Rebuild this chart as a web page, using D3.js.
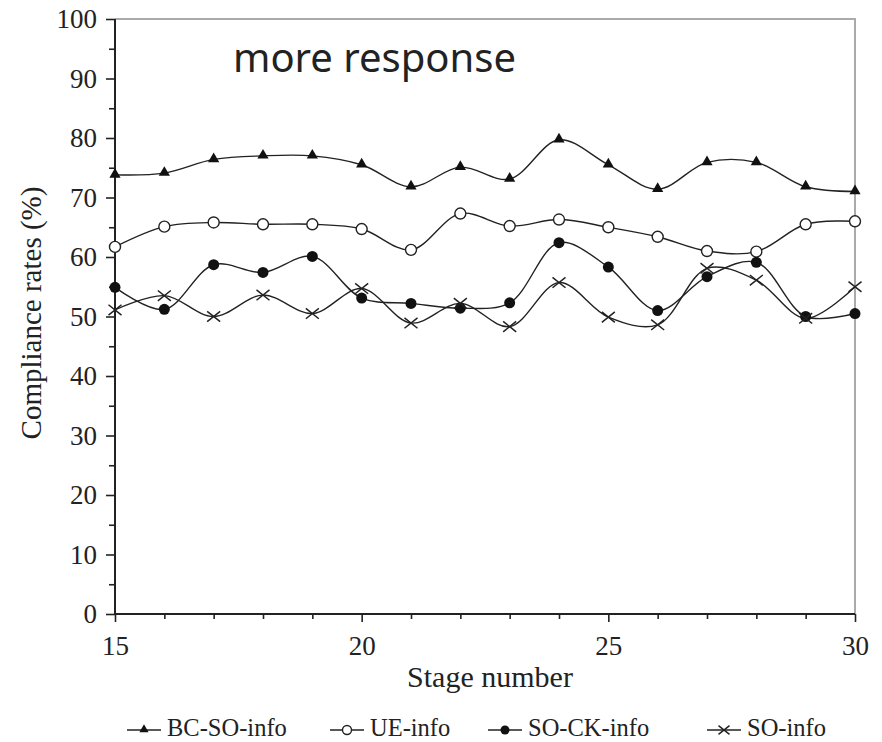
<!DOCTYPE html>
<html>
<head>
<meta charset="utf-8">
<script src="https://cdn.jsdelivr.net/npm/d3@7"></script>
<style>
  body { margin: 0; background: #fff; }
  svg text { fill: #222; }
</style>
</head>
<body>
<div id="box"></div>
<script>
// data
var stages = [15, 16, 17, 18, 19, 20, 21, 22, 23, 24, 25, 26, 27, 28, 29, 30];
var bcSoInfo = [73.8, 74.1, 76.4, 77.0, 77.0, 75.5, 71.8, 75.1, 73.1, 79.7, 75.5, 71.4, 75.9, 75.9, 71.8, 71.0];
var ueInfo   = [61.7, 65.1, 65.8, 65.5, 65.5, 64.7, 61.2, 67.3, 65.2, 66.3, 65.0, 63.4, 61.0, 60.9, 65.5, 66.0];
var soCkInfo = [54.9, 51.2, 58.7, 57.4, 60.1, 53.1, 52.2, 51.4, 52.3, 62.4, 58.3, 51.0, 56.7, 59.1, 50.0, 50.5];
var soInfo   = [51.1, 53.5, 50.0, 53.6, 50.5, 54.7, 48.9, 52.2, 48.3, 55.7, 49.9, 48.6, 58.1, 56.1, 49.7, 55.0];
var seriesNames = ["BC-SO-info", "UE-info", "SO-CK-info", "SO-info"];
var yTicks = [0, 10, 20, 30, 40, 50, 60, 70, 80, 90, 100];
var xTicks = [15, 20, 25, 30];

var series = [
    { name: seriesNames[0], values: bcSoInfo, mark: "triangle" },
    { name: seriesNames[1], values: ueInfo, mark: "open" },
    { name: seriesNames[2], values: soCkInfo, mark: "dot" },
    { name: seriesNames[3], values: soInfo, mark: "cross" }
];

var width = 882, height = 742;
var plotL = 115, plotR = 855, plotT = 19, plotB = 614;
var serif = "'Liberation Serif', 'Times New Roman', serif";

var svg = d3.select("#box").append("svg")
    .attr("width", width)
    .attr("height", height);

var x = d3.scaleLinear().domain([15, 30]).range([plotL, plotR]);
var y = d3.scaleLinear().domain([0, 100]).range([plotB, plotT]);

// frame: grey top/right
svg.append("path")
    .attr("d", "M" + plotL + "," + plotT + "H" + plotR + "V" + plotB)
    .attr("fill", "none")
    .attr("stroke", "#aaa")
    .attr("stroke-width", 2);

// minor ticks
var yMinor = svg.append("g").attr("transform", "translate(" + plotL + ",0)")
    .call(d3.axisLeft(y).tickValues(d3.range(5, 100, 10)).tickSize(6).tickFormat(""));
var xMinor = svg.append("g").attr("transform", "translate(0," + plotB + ")")
    .call(d3.axisBottom(x).tickValues(stages.filter(function(s) { return s % 5 != 0; })).tickSize(5).tickFormat(""));
[yMinor, xMinor].forEach(function(g) {
    g.select(".domain").remove();
    g.selectAll("line").attr("stroke", "#222").attr("stroke-width", 1.6);
});

// major axes
var yAxis = svg.append("g").attr("transform", "translate(" + plotL + ",0)")
    .call(d3.axisLeft(y).tickValues(yTicks).tickSize(9).tickPadding(9));
var xAxis = svg.append("g").attr("transform", "translate(0," + plotB + ")")
    .call(d3.axisBottom(x).tickValues(xTicks).tickSize(8).tickPadding(14));
[yAxis, xAxis].forEach(function(g) {
    g.select(".domain").attr("stroke", "#222").attr("stroke-width", 2);
    g.selectAll("line").attr("stroke", "#222").attr("stroke-width", 1.6);
    g.selectAll("text")
        .attr("font-family", serif)
        .attr("font-size", 27)
        .attr("fill", "#222");
});
yAxis.select(".domain").attr("d", "M0," + plotT + "V" + plotB);
xAxis.select(".domain").attr("d", "M" + plotL + ",0H" + plotR);
xAxis.selectAll("text").attr("dy", "0.71em");

// axis titles
svg.append("text")
    .attr("transform", "translate(41,313) rotate(-90)")
    .attr("text-anchor", "middle")
    .attr("font-family", serif)
    .attr("font-size", 29)
    .text("Compliance rates (%)");

svg.append("text")
    .attr("x", 490)
    .attr("y", 687)
    .attr("text-anchor", "middle")
    .attr("font-family", serif)
    .attr("font-size", 30)
    .text("Stage number");

svg.append("text")
    .attr("x", 233)
    .attr("y", 72)
    .attr("font-family", "'Noto Sans', sans-serif")
    .attr("font-size", 40)
    .attr("fill", "#000")
    .text("more response");

// markers
function drawMark(g, kind, cx, cy, s) {
    if (kind == "triangle") {
        g.append("path")
            .attr("d", d3.symbol().type(d3.symbolTriangle).size(s * s * 0.45)())
            .attr("transform", "translate(" + cx + "," + (cy - 0.5) + ")")
            .attr("fill", "#111");
    } else if (kind == "open") {
        g.append("circle").attr("cx", cx).attr("cy", cy).attr("r", s / 2)
            .attr("fill", "#fff").attr("stroke", "#222").attr("stroke-width", 1.4);
    } else if (kind == "dot") {
        g.append("circle").attr("cx", cx).attr("cy", cy).attr("r", s / 2)
            .attr("fill", "#111");
    } else {
        var h = s / 2;
        g.append("path")
            .attr("d", "M" + (cx - h) + "," + (cy - h * 0.8) + "L" + (cx + h) + "," + (cy + h * 0.8) +
                       "M" + (cx - h) + "," + (cy + h * 0.8) + "L" + (cx + h) + "," + (cy - h * 0.8))
            .attr("stroke", "#222").attr("stroke-width", 1.5);
    }
}

var line = d3.line()
    .x(function(d, i) { return x(stages[i]); })
    .y(function(d) { return y(d); })
    .curve(d3.curveCatmullRom.alpha(0.5));

series.forEach(function(s) {
    svg.append("path")
        .datum(s.values)
        .attr("d", line)
        .attr("fill", "none")
        .attr("stroke", "#222")
        .attr("stroke-width", 1.4);
});

series.forEach(function(s) {
    var g = svg.append("g");
    s.values.forEach(function(v, i) {
        drawMark(g, s.mark, x(stages[i]), y(v), s.mark == "cross" ? 13 : 11);
    });
});

// legend
var legendX = [127, 330, 488, 707];
var legendY = 730;
series.forEach(function(s, i) {
    var g = svg.append("g");
    g.append("line")
        .attr("x1", legendX[i]).attr("x2", legendX[i] + 34)
        .attr("y1", legendY).attr("y2", legendY)
        .attr("stroke", "#222").attr("stroke-width", 1.4);
    drawMark(g, s.mark, legendX[i] + 17, legendY, s.mark == "cross" ? 11 : 9);
    g.append("text")
        .attr("x", legendX[i] + 40)
        .attr("y", legendY + 6)
        .attr("font-family", serif)
        .attr("font-size", 24.5)
        .text(s.name);
});
</script>
</body>
</html>
